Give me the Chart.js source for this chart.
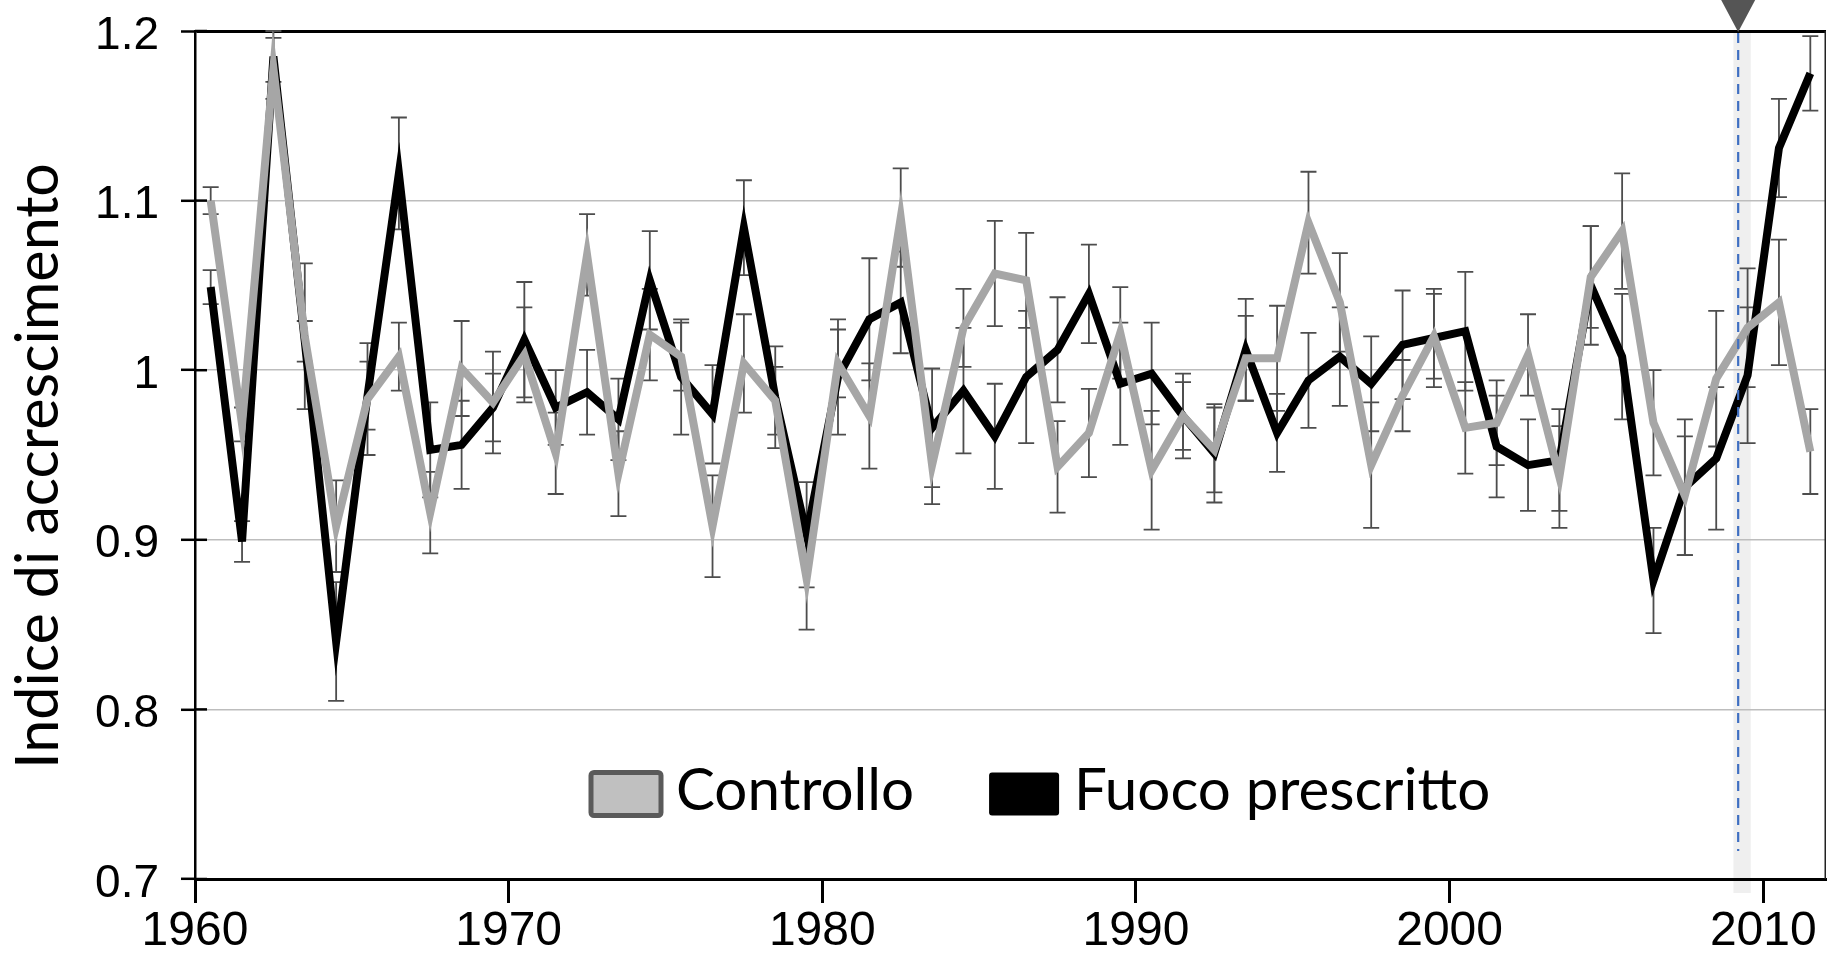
<!DOCTYPE html>
<html>
<head>
<meta charset="utf-8">
<script src="https://cdn.jsdelivr.net/npm/chart.js@4.4.1/dist/chart.umd.min.js"></script>
<style>
html,body{margin:0;padding:0;background:#fff;overflow:hidden}
canvas{display:block}
</style>
</head>
<body>
<canvas id="c" width="1827" height="953"></canvas>
<script>
// ---- data ----
const years = [1960.5,1961.5,1962.5,1963.5,1964.5,1965.5,1966.5,1967.5,1968.5,1969.5,
  1970.5,1971.5,1972.5,1973.5,1974.5,1975.5,1976.5,1977.5,1978.5,1979.5,
  1980.5,1981.5,1982.5,1983.5,1984.5,1985.5,1986.5,1987.5,1988.5,1989.5,
  1990.5,1991.5,1992.5,1993.5,1994.5,1995.5,1996.5,1997.5,1998.5,1999.5,
  2000.5,2001.5,2002.5,2003.5,2004.5,2005.5,2006.5,2007.5,2008.5,2009.5,
  2010.5,2011.5];
const controllo = [1.100,0.968,1.178,1.020,0.908,0.983,1.008,0.916,1.001,0.981,
  1.009,0.951,1.068,0.939,1.021,1.008,0.908,1.004,0.982,0.877,
  1.004,0.973,1.090,0.944,1.025,1.057,1.053,0.943,0.963,1.022,
  0.941,0.973,0.953,1.007,1.007,1.087,1.040,0.944,0.985,1.020,
  0.966,0.969,1.009,0.937,1.055,1.082,0.969,0.926,0.995,1.025,
  1.040,0.952];
const fuoco = [1.049,0.899,1.185,1.017,0.840,0.985,1.116,0.953,0.956,0.978,
  1.018,0.978,0.987,0.971,1.053,0.996,0.974,1.084,0.984,0.903,
  0.996,1.030,1.040,0.966,0.988,0.961,0.996,1.012,1.045,0.992,
  0.998,0.973,0.951,1.012,0.963,0.994,1.008,0.992,1.015,1.019,
  1.023,0.955,0.944,0.947,1.050,1.008,0.876,0.931,0.948,0.997,
  1.131,1.175];
const errControllo = [0.008,0.010,0.018,0.043,0.027,0.033,0.020,0.024,0.028,0.030,
  0.028,0.024,0.024,0.025,0.027,0.020,0.030,0.029,0.020,0.030,
  0.020,0.031,0.029,0.023,0.023,0.031,0.028,0.027,0.026,0.027,
  0.035,0.020,0.025,0.025,0.031,0.030,0.029,0.037,0.021,0.025,
  0.027,0.025,0.024,0.030,0.030,0.034,0.031,0.035,0.040,0.035,
  0.037,0.025];
const errFuoco = [0.010,0.012,0.015,0.012,0.035,0.020,0.033,0.028,0.026,0.020,
  0.034,0.022,0.025,0.024,0.029,0.034,0.029,0.028,0.030,0.031,
  0.034,0.036,0.030,0.035,0.037,0.031,0.039,0.031,0.029,0.036,
  0.030,0.025,0.029,0.030,0.023,0.028,0.029,0.028,0.032,0.029,
  0.035,0.030,0.027,0.030,0.035,0.037,0.031,0.040,0.042,0.040,
  0.029,0.022];
const seriesLabels = ['Controllo', 'Fuoco prescritto'];
const xTicks = [1960, 1970, 1980, 1990, 2000, 2010];
const yTicks = [0.7, 0.8, 0.9, 1.0, 1.1, 1.2];
const yTitle = 'Indice di accrescimento';
const markerYear = 2009.2;
const bandYears = [2009.05, 2009.6];

// ---- font fitting ----
const mctx = document.createElement('canvas').getContext('2d');
function fitSize(text, family, target) {
  mctx.font = '100px ' + family;
  return 100 * target / mctx.measureText(text).width;
}
const titleSize = fitSize(yTitle, 'Lato', 606);
const legendSize = (fitSize(seriesLabels[0], 'Lato', 236) + fitSize(seriesLabels[1], 'Lato', 420)) / 2;

const GREY = '#a6a6a6';
const BLACK = '#000000';

function makeDataset(label, vals, errs, color) {
  return {
    label: label,
    data: years.map((x, i) => ({x: x, y: vals[i]})),
    errors: errs,
    borderColor: color,
    backgroundColor: color,
    borderWidth: 8,
    pointRadius: 0,
    pointHoverRadius: 0,
    tension: 0,
    fill: false
  };
}

const decor = {
  id: 'decor',
  beforeDraw(chart) {
    const {ctx, chartArea: a, scales: {x}} = chart;
    const x0 = x.getPixelForValue(bandYears[0]);
    const x1 = x.getPixelForValue(bandYears[1]);
    ctx.save();
    ctx.fillStyle = '#efefef';
    ctx.fillRect(x0, a.top, x1 - x0, a.bottom - a.top + 14);
    ctx.restore();
  },
  beforeDatasetsDraw(chart) {
    const {ctx, scales: {x, y}} = chart;
    ctx.save();
    ctx.strokeStyle = '#4d4d4d';
    ctx.lineWidth = 1.8;
    chart.data.datasets.forEach(ds => {
      ds.data.forEach((p, i) => {
        const e = ds.errors[i];
        const px = x.getPixelForValue(p.x);
        const yt = y.getPixelForValue(p.y + e);
        const yb = y.getPixelForValue(p.y - e);
        ctx.beginPath();
        ctx.moveTo(px, yt); ctx.lineTo(px, yb);
        ctx.moveTo(px - 8, yt); ctx.lineTo(px + 8, yt);
        ctx.moveTo(px - 8, yb); ctx.lineTo(px + 8, yb);
        ctx.stroke();
      });
    });
    ctx.restore();
  },
  afterDatasetsDraw(chart) {
    const {ctx, chartArea: a, scales: {x}} = chart;
    const xm = x.getPixelForValue(markerYear);
    ctx.save();
    ctx.strokeStyle = '#3f6fc2';
    ctx.lineWidth = 2.2;
    ctx.setLineDash([10, 7]);
    ctx.beginPath();
    ctx.moveTo(xm, a.top + 2);
    ctx.lineTo(xm, a.bottom - 28);
    ctx.stroke();
    ctx.restore();
  },
  afterDraw(chart) {
    const {ctx, chartArea: a, scales: {x, y}} = chart;
    ctx.save();
    // inner y ticks
    ctx.strokeStyle = '#000';
    ctx.lineWidth = 2.5;
    yTicks.forEach(v => {
      const py = y.getPixelForValue(v);
      ctx.beginPath();
      ctx.moveTo(a.left, py);
      ctx.lineTo(a.left + 12, py);
      ctx.stroke();
    });
    // right border
    ctx.strokeStyle = '#222';
    ctx.lineWidth = 1.5;
    ctx.beginPath();
    ctx.moveTo(a.right - 0.75, a.top);
    ctx.lineTo(a.right - 0.75, a.bottom);
    ctx.stroke();
    // marker triangle
    const xm = x.getPixelForValue(markerYear);
    ctx.fillStyle = '#555555';
    ctx.beginPath();
    ctx.moveTo(xm - 17, 0);
    ctx.lineTo(xm + 17, 0);
    ctx.lineTo(xm, a.top + 1);
    ctx.closePath();
    ctx.fill();
    // y axis title
    ctx.save();
    ctx.translate(39, (a.top + a.bottom) / 2 + 11);
    ctx.rotate(-Math.PI / 2);
    ctx.font = titleSize + 'px Lato';
    ctx.fillStyle = '#000';
    ctx.textAlign = 'center';
    ctx.textBaseline = 'middle';
    ctx.fillText(yTitle, 0, 0);
    ctx.restore();
    // legend
    const cy = a.bottom - 85;
    let lx = a.left + 396;
    ctx.font = legendSize + 'px Lato';
    ctx.textBaseline = 'middle';
    ctx.textAlign = 'left';
    chart.data.datasets.forEach((ds, i) => {
      const bw = 70, bh = 43;
      ctx.beginPath();
      if (ctx.roundRect) ctx.roundRect(lx, cy - bh / 2, bw, bh, 3); else ctx.rect(lx, cy - bh / 2, bw, bh);
      if (i === 0) {
        ctx.fillStyle = '#c0c0c0';
        ctx.fill();
        ctx.strokeStyle = '#5a5a5a';
        ctx.lineWidth = 5;
        ctx.stroke();
      } else {
        ctx.fillStyle = '#000';
        ctx.fill();
      }
      const tx = lx + bw + 15;
      ctx.fillStyle = '#000';
      ctx.fillText(ds.label, tx, cy - 3);
      lx = tx + ctx.measureText(ds.label).width + 75;
    });
    ctx.restore();
  }
};

Chart.defaults.font.family = "'Liberation Sans', Arial, sans-serif";
Chart.defaults.color = '#000';

new Chart(document.getElementById('c'), {
  type: 'line',
  data: {
    datasets: [
      makeDataset(seriesLabels[0], controllo, errControllo, GREY),
      makeDataset(seriesLabels[1], fuoco, errFuoco, BLACK)
    ]
  },
  options: {
    responsive: false,
    devicePixelRatio: 1,
    animation: false,
    events: [],
    layout: {padding: {top: 31, right: 1, left: 0, bottom: 0}},
    plugins: {legend: {display: false}, tooltip: {enabled: false}},
    scales: {
      x: {
        type: 'linear',
        min: 1960,
        max: 2012,
        afterBuildTicks: s => { s.ticks = xTicks.map(v => ({value: v})); },
        afterFit: s => { s.height = 74; s.paddingLeft = 0; s.paddingRight = 0; },
        ticks: {
          callback: v => String(v),
          font: {size: 48, family: "'Liberation Sans', Arial, sans-serif"},
          color: '#000',
          padding: 0,
          maxRotation: 0,
          autoSkip: false
        },
        grid: {drawOnChartArea: false, drawTicks: true, tickLength: 24, tickWidth: 3, tickColor: '#000'},
        border: {display: true, color: '#000', width: 3}
      },
      y: {
        type: 'linear',
        min: 0.7,
        max: 1.2,
        afterBuildTicks: s => { s.ticks = yTicks.map(v => ({value: v})); },
        afterFit: s => { s.width = 195; s.paddingTop = 0; s.paddingBottom = 0; },
        ticks: {
          callback: v => String(+Number(v).toFixed(1)),
          font: {size: 46, family: "'Liberation Sans', Arial, sans-serif"},
          color: '#000',
          padding: 22,
          labelOffset: 5
        },
        grid: {
          color: c => c.tick.value === 1.2 ? '#000' : (c.tick.value === 0.7 ? 'rgba(0,0,0,0)' : '#bdbdbd'),
          lineWidth: c => c.tick.value === 1.2 ? 3 : 1.6,
          tickLength: 14,
          tickWidth: 2.5,
          tickColor: '#000'
        },
        border: {display: true, color: '#000', width: 2.5},
        title: {display: false}
      }
    }
  },
  plugins: [decor]
});
</script>
</body>
</html>
